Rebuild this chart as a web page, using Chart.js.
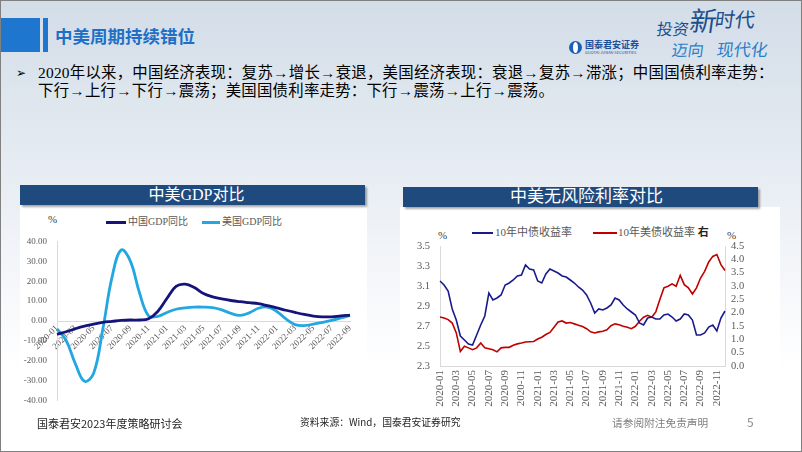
<!DOCTYPE html>
<html lang="zh-CN">
<head>
<meta charset="utf-8">
<title>中美周期持续错位</title>
<script src="https://cdn.jsdelivr.net/npm/chart.js@4.4.1/dist/chart.umd.min.js"></script>
<style>
  html, body { margin: 0; padding: 0; }
  body { width: 802px; height: 452px; overflow: hidden; }
  #slide {
    position: relative; width: 802px; height: 452px; overflow: hidden;
    background: linear-gradient(180deg, #d3dde8 0%, #e2e9f0 30%, #f1f4f8 55%, #ffffff 82%);
    font-family: "Noto Sans CJK SC", "Noto Sans", sans-serif; color: #000;
  }
  .abs { position: absolute; white-space: nowrap; }
  .frame { position: absolute; left: 0; top: 0; width: 802px; height: 452px; box-sizing: border-box; border: 1px solid #808080; pointer-events: none; }
  .bar { position: absolute; background: #1f4a7e; color: #fff; text-align: center; box-shadow: 2px 2px 2px rgba(0,0,0,0.35);
         font-family: "Liberation Serif", "Noto Sans CJK SC", serif; }
  .panel { position: absolute; background: #fff; }
  .legend { font-family: "Liberation Serif", "Noto Sans CJK SC", serif; color: #595959; }
  .swatch { position: absolute; height: 2px; }
  .unit { font-family: "Liberation Serif", serif; color: #404040; font-size: 11px; }
  canvas { position: absolute; }
</style>
</head>
<body>
<div id="slide">
  <!-- 标题栏 -->
  <div class="abs" style="left:0;top:18px;width:40px;height:34px;background:#1f76cf;"></div>
  <div class="abs" style="left:43px;top:18px;width:5px;height:34px;background:#1f76cf;"></div>
  <div class="abs" style="left:55px;top:25px;font-size:17.5px;font-weight:bold;color:#1f6fc5;line-height:22px;">中美周期持续错位</div>

  <!-- 右上角标识 -->
  <div class="abs" style="left:569px;top:41px;width:13px;height:13px;border-radius:50%;background:#1a5fb4;"></div>
  <div class="abs" style="left:573px;top:42px;width:5px;height:11px;border-radius:50%;background:#fff;"></div>
  <div class="abs" style="left:585px;top:39px;font-size:9px;font-weight:bold;color:#1a4f9c;line-height:11px;">国泰君安证券</div>
  <div class="abs" style="left:585px;top:50px;font-size:4px;color:#1a4f9c;line-height:5px;">GUOTAI JUNAN SECURITIES</div>
  <div class="abs" style="left:657px;top:19px;font-size:16px;color:#1e4d8c;line-height:18px;transform:skewX(-8deg);">投资</div>
  <div class="abs" style="left:690px;top:5px;font-size:27px;color:#1e4d8c;line-height:30px;transform:skewX(-8deg);">新</div>
  <div class="abs" style="left:715px;top:8px;font-size:20px;color:#1e4d8c;line-height:22px;transform:skewX(-8deg);">时代</div>
  <div class="abs" style="left:672px;top:40px;font-size:16px;color:#2a7fc8;line-height:18px;transform:skewX(-8deg);">迈向</div>
  <div class="abs" style="left:717px;top:40px;font-size:17px;color:#2a7fc8;line-height:18px;transform:skewX(-8deg);">现代化</div>

  <!-- 要点 -->
  <div class="abs" style="left:16px;top:65px;font-size:12px;font-family:'DejaVu Sans';line-height:16px;">➢</div>
  <div class="abs" style="left:38px;top:64px;font-size:15.4px;line-height:18px;letter-spacing:0.25px;font-family:'Liberation Serif','Noto Sans CJK SC',serif;">
    2020年以来，中国经济表现：复苏→增长→衰退，美国经济表现：衰退→复苏→滞涨；中国国债利率走势：<br>
    下行→上行→下行→震荡；美国国债利率走势：下行→震荡→上行→震荡。
  </div>

  <!-- 左图 -->
  <div class="panel" style="left:20px;top:205px;width:347px;height:210px;"></div>
  <div class="bar" style="left:20px;top:185px;width:345px;height:20px;font-size:16px;line-height:20px;padding-left:8px;box-sizing:border-box;">中美GDP对比</div>
  <div class="swatch" style="left:106px;top:221px;width:20px;height:2.5px;background:#14147a;"></div>
  <div class="abs legend" style="left:128px;top:215px;font-size:10px;line-height:13px;" id="lg0"></div>
  <div class="swatch" style="left:202px;top:221px;width:18px;height:2.5px;background:#22a7e2;"></div>
  <div class="abs legend" style="left:222px;top:215px;font-size:10px;line-height:13px;" id="lg1"></div>
  <div class="abs unit" style="left:48px;top:213px;">%</div>
  <canvas id="gdpChart" width="345" height="190" style="left:20px;top:226px;"></canvas>

  <!-- 右图 -->
  <div class="panel" style="left:400px;top:207px;width:380px;height:208px;"></div>
  <div class="bar" style="left:403px;top:187px;width:355px;height:20px;font-size:17px;line-height:20px;padding-left:12px;box-sizing:border-box;">中美无风险利率对比</div>
  <div class="swatch" style="left:472px;top:232px;width:21px;background:#1a1a8c;"></div>
  <div class="abs legend" style="left:495px;top:225px;font-size:11px;line-height:14px;" id="lg2"></div>
  <div class="swatch" style="left:593px;top:232px;width:24px;background:#c00000;"></div>
  <div class="abs legend" style="left:618px;top:225px;font-size:11px;line-height:14px;"><span id="lg3"></span> <b style="color:#222;">右</b></div>
  <div class="abs unit" style="left:438px;top:229px;">%</div>
  <div class="abs unit" style="left:727px;top:229px;">%</div>
  <canvas id="rateChart" width="380" height="188" style="left:400px;top:226px;"></canvas>

  <!-- 页脚 -->
  <div class="abs" style="left:37px;top:415px;font-size:11px;line-height:16px;color:#262626;">国泰君安2023年度策略研讨会</div>
  <div class="abs" style="left:300px;top:415px;font-size:9.8px;line-height:14px;color:#262626;">资料来源：Wind，国泰君安证券研究</div>
  <div class="abs" style="left:612px;top:415px;font-size:10.7px;line-height:16px;color:#7f7f7f;">请参阅附注免责声明</div>
  <div class="abs" style="left:747px;top:414px;font-size:12px;line-height:16px;color:#8c8c8c;">5</div>

  <div class="frame"></div>
</div>

<script>
// 中美GDP同比（%），按月读取
const gdpMonths = [
  "2020-01", "2020-02", "2020-03", "2020-04", "2020-05", "2020-06", "2020-07", "2020-08", "2020-09", "2020-10", "2020-11", "2020-12",
  "2021-01", "2021-02", "2021-03", "2021-04", "2021-05", "2021-06", "2021-07", "2021-08", "2021-09", "2021-10", "2021-11", "2021-12",
  "2022-01", "2022-02", "2022-03", "2022-04", "2022-05", "2022-06", "2022-07", "2022-08", "2022-09"
];
const chinaGdp = [
  -6.7, -5.4, -3.9, -2.6, -1.6, -0.7, -0.2, 0.3, 0.5, 0.5, 1.1, 4.8,
  11.3, 17.4, 18.5, 16.8, 13.8, 12.1, 11.1, 10.3, 9.7, 9.2, 8.7, 7.7,
  6.6, 5.4, 4.3, 3.3, 2.5, 2.1, 2.1, 2.6, 3.0
];
const usGdp = [
  -4.0, -9.8, -21.4, -30.3, -26.3, -4.2, 21.8, 35.7, 30.2, 14.3, 2.6, 2.3,
  4.3, 5.9, 6.6, 7.0, 7.0, 6.7, 5.6, 3.8, 2.8, 4.1, 6.4, 7.0,
  4.8, 1.1, -1.8, -2.3, -1.6, -0.7, 0.3, 1.5, 2.8
];
const gdpNames = ["中国GDP同比", "美国GDP同比"];

// 中美10年期国债收益率（%），半月取值
const rateTickLabels = [
  "2020-01", "2020-03", "2020-05", "2020-07", "2020-09", "2020-11",
  "2021-01", "2021-03", "2021-05", "2021-07", "2021-09", "2021-11",
  "2022-01", "2022-03", "2022-05", "2022-07", "2022-09", "2022-11"
];
const chinaYield = [
  3.15, 3.11, 3.05, 2.87, 2.76, 2.60, 2.56, 2.52, 2.51, 2.61, 2.71, 2.80,
  3.03, 2.96, 2.98, 3.01, 3.11, 3.13, 3.16, 3.20, 3.21, 3.31, 3.27, 3.26,
  3.15, 3.13, 3.22, 3.27, 3.25, 3.23, 3.20, 3.19, 3.16, 3.13, 3.09, 3.06,
  3.01, 2.93, 2.83, 2.87, 2.86, 2.88, 2.91, 2.98, 2.96, 2.91, 2.87, 2.84,
  2.81, 2.73, 2.71, 2.78, 2.79, 2.77, 2.77, 2.81, 2.82, 2.79, 2.75, 2.77,
  2.82, 2.81, 2.76, 2.61, 2.61, 2.63, 2.69, 2.71, 2.65, 2.78, 2.85
];
const usYield = [
  1.84, 1.80, 1.74, 1.61, 1.24, 0.55, 0.74, 0.68, 0.61, 0.68, 0.86, 0.68,
  0.65, 0.61, 0.53, 0.68, 0.70, 0.70, 0.78, 0.83, 0.86, 0.90, 0.91, 0.92,
  1.01, 1.08, 1.18, 1.26, 1.45, 1.65, 1.69, 1.61, 1.63, 1.58, 1.53, 1.48,
  1.40, 1.28, 1.24, 1.28, 1.30, 1.36, 1.51, 1.58, 1.55, 1.49, 1.45, 1.40,
  1.49, 1.68, 1.83, 1.90, 1.83, 2.03, 2.49, 2.93, 2.99, 3.08, 2.99, 3.40,
  3.05, 2.93, 2.70, 2.93, 3.30, 3.55, 3.90, 4.11, 4.18, 3.80, 3.58
];
const rateNames = ["10年中债收益率", "10年美债收益率"];

// 半月日期类目：每月1日与16日
const rateDates = [];
["2020", "2021", "2022"].forEach((yr) => {
  for (let m = 1; m <= 12; m++) {
    const mm = String(m).padStart(2, "0");
    rateDates.push(`${yr}-${mm}`, `${yr}-${mm}-16`);
  }
});
rateDates.length = chinaYield.length;

document.getElementById("lg0").textContent = gdpNames[0];
document.getElementById("lg1").textContent = gdpNames[1];
document.getElementById("lg2").textContent = rateNames[0];
document.getElementById("lg3").textContent = rateNames[1];

const tickFont = { family: "Liberation Serif", size: 9 };
const gris = "#595959";
const ejeColor = "#d9d9d9";

// 左图：GDP同比
new Chart(document.getElementById("gdpChart"), {
  type: "line",
  data: {
    labels: gdpMonths,
    datasets: [
      { label: gdpNames[0], data: chinaGdp, borderColor: "#14147a", borderWidth: 2.8, pointRadius: 0, tension: 0.4, fill: false },
      { label: gdpNames[1], data: usGdp, borderColor: "#22a7e2", borderWidth: 2.8, pointRadius: 0, tension: 0.4, fill: false },
    ],
  },
  options: {
    responsive: false,
    animation: false,
    layout: { padding: { top: 14, right: 15, bottom: 12, left: 0 } },
    plugins: { legend: { display: false }, tooltip: { enabled: false } },
    scales: {
      x: {
        position: { y: 0 },
        grid: { display: false, drawTicks: false },
        border: { color: ejeColor },
        afterFit: (s) => { s.height = 0; },
        ticks: {
          autoSkip: false, minRotation: 45, maxRotation: 45, padding: 2, color: gris, font: tickFont,
          callback: function (v, i) { return i % 2 === 0 ? this.getLabelForValue(v) : null; },
        },
      },
      y: {
        min: -40, max: 40,
        grid: { display: false, drawTicks: false },
        border: { color: ejeColor },
        afterFit: (s) => { s.width = 37; },
        ticks: { stepSize: 10, autoSkip: false, padding: 10, color: gris, font: tickFont, callback: (v) => v.toFixed(2) },
      },
    },
  },
});

// 右图：中美无风险利率
const rateFont = { family: "Liberation Serif", size: 10.5 };
new Chart(document.getElementById("rateChart"), {
  type: "line",
  data: {
    labels: rateDates,
    datasets: [
      { label: rateNames[0], data: chinaYield, yAxisID: "yL", borderColor: "#1a1a8c", borderWidth: 1.6, pointRadius: 0, tension: 0 },
      { label: rateNames[1], data: usYield, yAxisID: "yR", borderColor: "#c00000", borderWidth: 1.6, pointRadius: 0, tension: 0 },
    ],
  },
  options: {
    responsive: false,
    animation: false,
    layout: { padding: { top: 20, right: 0, bottom: 0, left: 0 } },
    plugins: { legend: { display: false }, tooltip: { enabled: false } },
    scales: {
      x: {
        grid: { display: false, drawTicks: false },
        border: { color: ejeColor },
        afterFit: (s) => { s.height = 48; },
        ticks: {
          autoSkip: false, minRotation: 90, maxRotation: 90, padding: 4, color: gris,
          font: { family: "Liberation Serif", size: 11 },
          callback: function (v, i) {
            const lab = this.getLabelForValue(v);
            return rateTickLabels.includes(lab) ? lab : null;
          },
        },
      },
      yL: {
        position: "left", min: 2.3, max: 3.5,
        grid: { display: false, drawTicks: false },
        border: { color: ejeColor },
        afterFit: (s) => { s.width = 40; },
        ticks: { stepSize: 0.2, autoSkip: false, padding: 10, color: gris, font: rateFont, callback: (v) => v.toFixed(1) },
      },
      yR: {
        position: "right", min: 0, max: 4.5,
        grid: { display: false, drawTicks: false },
        border: { color: ejeColor },
        afterFit: (s) => { s.width = 55; },
        ticks: { stepSize: 0.5, autoSkip: false, padding: 6, color: gris, font: rateFont, callback: (v) => v.toFixed(1) },
      },
    },
  },
});
</script>
</body>
</html>
